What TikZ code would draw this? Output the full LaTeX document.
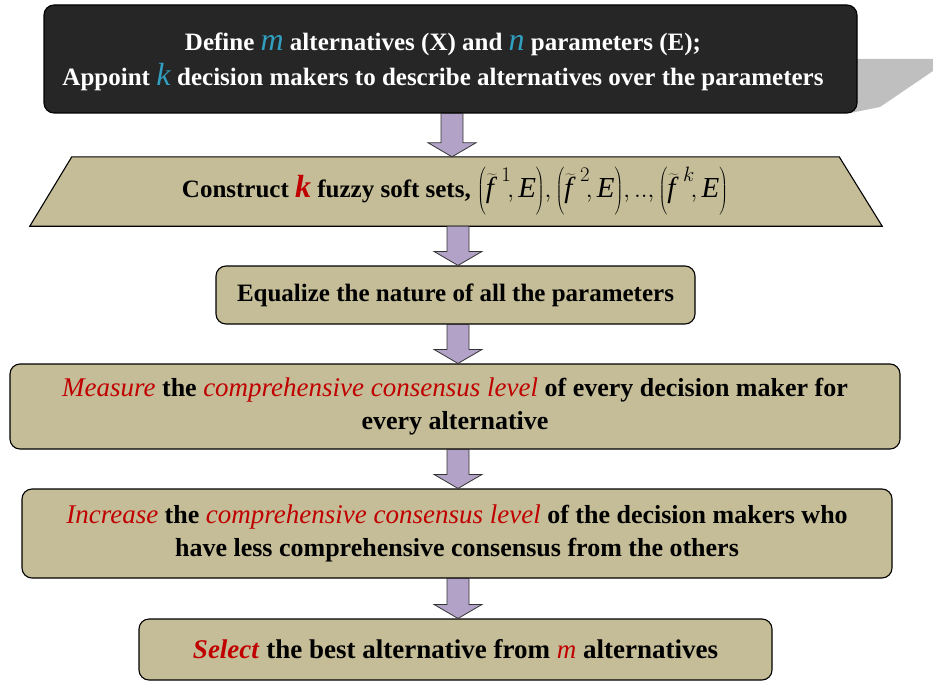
\documentclass[tikz,border=0pt]{standalone}
\usepackage{fontspec}
\setmainfont{Liberation Serif}
\usetikzlibrary{calc}
\definecolor{tanbox}{HTML}{C4BD97}
\definecolor{lav}{HTML}{B3A2C7}
\definecolor{darkbox}{HTML}{262626}
\definecolor{redt}{HTML}{C00000}
\definecolor{cyant}{HTML}{31A0C0}
\definecolor{shadowg}{HTML}{BFBFBF}
\newcommand{\itn}[1]{\textnormal{\itshape #1}}
\newcommand{\redit}[1]{{\fontsize{27}{34}\selectfont\color{redt}\itn{#1}}}
\newcommand{\cyanl}[1]{{\fontsize{32}{32}\selectfont\color{cyant}\itn{#1}}}
\newcommand{\fse}[1]{\left(\rule[-14pt]{0pt}{44pt}\widetilde{\itn{f}\,}^{\,#1}\!, \itn{E}\right)}
\newcommand{\blockarr}[3]{%
  \path let \p1=(#1.south-|#3), \p2=(#2.north-|#3) in
    [blockarrow] (\x1-11pt,\y1) -- (\x2-11pt,\y2+14pt) -- (\x2-24pt,\y2+14pt)
    -- (\x2,\y2) -- (\x2+24pt,\y2+14pt) -- (\x2+11pt,\y2+14pt) -- (\x1+11pt,\y1) -- cycle;}
\begin{document}
\begin{tikzpicture}[x=1pt,y=1pt,
  box/.style={draw=black, line width=1.1pt, fill=tanbox, rounded corners=10pt,
    align=center, inner sep=0pt, font=\bfseries\fontsize{26}{33}\selectfont},
  blockarrow/.style={draw=black!80, line width=0.8pt, fill=lav}]
\useasboundingbox (0,0) rectangle (933,-682);
% shadow of the top box
\fill[shadowg] (850,-59) -- (933,-59) -- (933,-71) -- (880,-107) -- (850,-113) -- cycle;
% boxes
\node[box, minimum width=813, minimum height=108, fill=darkbox] (b1) at (450.5,-59) {};
\node[text=white, align=center, inner sep=0pt,
  font=\bfseries\fontsize{25}{35}\selectfont] (t1) at (443,-62)
  {Define \cyanl{m} alternatives (X) and \cyanl{n} parameters (E);\\
   Appoint \cyanl{k} decision makers to describe alternatives over the parameters};
\node[inner sep=0pt, minimum width=852, minimum height=69] (b2) at (456,-191.5) {};
\draw[line width=1.1pt, fill=tanbox] (b2.south west) -- ($(b2.north west)+(42,0)$)
  -- ($(b2.north east)+(-43,0)$) -- (b2.south east) -- cycle;
\node[font=\bfseries\fontsize{25}{34}\selectfont, inner sep=0pt] (t2) at (455,-191)
  {Construct {\fontsize{32}{32}\selectfont\color{redt}\textit{k}} fuzzy soft sets,
   {\fontsize{29}{32}\selectfont\(\fse{1}\!,\fse{2}\!,..,\fse{k}\)}};
\node[box, minimum width=479, minimum height=58, font=\bfseries\fontsize{25}{33}\selectfont] (b3) at (455.5,-295)
  {Equalize the nature of all the parameters};
\node[box, minimum width=890, minimum height=85] (b4) at (455,-406.5)
  {\redit{Measure} the \redit{comprehensive consensus level} of every decision maker for\\ every alternative};
\node[box, minimum width=870, minimum height=89] (b5) at (457,-533.5)
  {\redit{Increase} the \redit{comprehensive consensus level} of the decision makers who\\ have less comprehensive consensus from the others};
\node[box, minimum width=633, minimum height=61, font=\bfseries\fontsize{27}{33}\selectfont] (b6) at (455.5,-649.5)
  {{\color{redt}\textit{Select}} the best alternative from \redit{m} alternatives};
% arrows
\coordinate (ax1) at (452,0);
\coordinate (ax) at (458,0);
\blockarr{b1}{b2}{ax1}
\blockarr{b2}{b3}{ax}
\blockarr{b3}{b4}{ax}
\blockarr{b4}{b5}{ax}
\blockarr{b5}{b6}{ax}
\end{tikzpicture}
\end{document}
